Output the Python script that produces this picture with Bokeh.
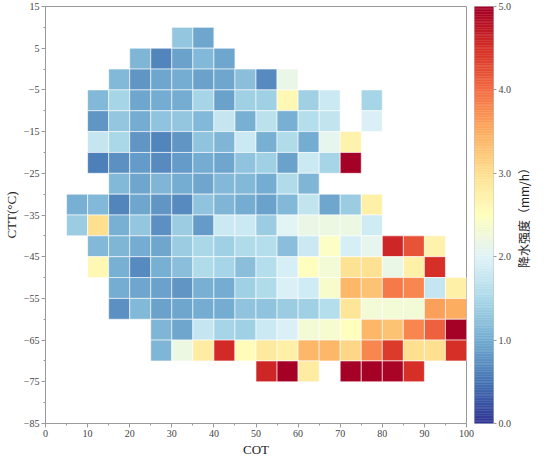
import numpy as np
from bokeh.plotting import figure
from bokeh.layouts import row
from bokeh.models import (ColumnDataSource, LinearColorMapper, FixedTicker,
                          PrintfTickFormatter, Range1d, Title)
from bokeh.core.properties import value
from bokeh.transform import transform
from bokeh.embed import file_html
from bokeh.resources import INLINE

N = None
# COT bin centres (x) and CTT bin centres (y)
cot_bins = [2.5, 7.5, 12.5, 17.5, 22.5, 27.5, 32.5, 37.5, 42.5, 47.5,
            52.5, 57.5, 62.5, 67.5, 72.5, 77.5, 82.5, 87.5, 92.5, 97.5]
ctt_bins = [7.5, 2.5, -2.5, -7.5, -12.5, -17.5, -22.5, -27.5, -32.5,
            -37.5, -42.5, -47.5, -52.5, -57.5, -62.5, -67.5, -72.5]

# rain intensity (mm/h) for each CTT row, one value per COT bin
row_p7_5 = [N, N, N, N, N, N, 1.3, 0.95, N, N, N, N, N, N, N, N, N, N, N, N]
row_p2_5 = [N, N, N, N, 1.1, 0.65, 0.9, 1.15, 0.95, N, N, N, N, N, N, N, N, N, N, N]
row_m2_5 = [N, N, N, 1.15, 0.8, 0.95, 1.0, 0.9, 0.95, 1.2, 0.7, 2.15, N, N, N, N, N, N, N, N]
row_m7_5 = [N, N, 1.15, 1.45, 0.95, 1.0, 1.0, 1.45, 0.9, 1.4, 1.4, 2.6, 1.4, 1.8, N, 1.45, N, N, N, N]
row_m12_5 = [N, N, 0.8, 1.3, 1.0, 1.25, 1.3, 1.15, 1.75, 1.05, 1.65, 1.05, 1.6, 1.7, N, 1.95, N, N, N, N]
row_m17_5 = [N, N, 1.75, 1.5, 0.8, 0.65, 0.8, 1.25, 1.1, 1.8, 1.05, 1.55, 1.0, 2.1, 2.7, N, N, N, N, N]
row_m22_5 = [N, N, 0.6, 0.75, 0.85, 0.7, 0.85, 1.0, 0.95, 1.25, 1.4, 0.9, 1.8, 1.45, 5.0, N, N, N, N, N]
row_m27_5 = [N, N, N, 1.15, 0.95, 1.1, 1.0, 0.95, 1.15, 1.15, 1.0, 1.55, 1.1, N, N, N, N, N, N, N]
row_m32_5 = [N, 1.05, 1.15, 0.65, 0.95, 0.8, 0.7, 1.25, 1.1, 1.0, 0.9, 1.15, 1.7, 0.95, 1.35, 2.75, N, N, N, N]
row_m37_5 = [N, 1.35, 3.0, 1.05, 1.3, 0.75, 1.35, 0.85, 1.8, 1.8, 1.35, 2.05, 2.15, 2.2, 2.2, 1.85, N, N, N, N]
row_m42_5 = [N, N, 1.15, 1.1, 1.0, 0.95, 1.35, 1.5, 1.4, 1.55, 1.6, 1.2, 1.8, 2.45, 1.9, 2.1, 4.6, 4.2, 2.7, N]
row_m47_5 = [N, N, 2.6, 1.05, 0.7, 1.05, 1.2, 1.55, 1.45, 1.2, 1.6, 1.9, 2.5, 2.3, 2.95, 2.95, 2.15, 2.75, 4.5, N]
row_m52_5 = [N, N, N, 1.0, 0.95, 0.9, 0.8, 1.05, 1.0, 1.4, 1.55, 1.95, 1.85, 2.4, 3.4, 3.3, 3.9, 3.8, 1.75, 2.75]
row_m57_5 = [N, N, N, 0.75, 1.15, 0.9, 0.95, 1.0, 1.0, 1.25, 1.25, 1.35, 1.4, 1.6, 2.9, 2.3, 2.3, 2.3, 3.6, 3.5]
row_m62_5 = [N, N, N, N, N, 1.1, 0.95, 1.75, 1.45, 1.4, 1.8, 1.95, 2.3, 2.35, 2.5, 3.4, 3.3, 3.8, 4.1, 5.0]
row_m67_5 = [N, N, N, N, N, 1.1, 2.2, 2.8, 4.55, 2.55, 2.85, 2.75, 3.4, 3.4, 3.1, 3.8, 4.4, 3.0, 3.0, 4.5]
row_m72_5 = [N, N, N, N, N, N, N, N, N, N, 4.6, 5.0, 2.8, N, 5.0, 5.0, 4.95, 4.5, N, N]

rows = [row_p7_5, row_p2_5, row_m2_5, row_m7_5, row_m12_5, row_m17_5, row_m22_5,
        row_m27_5, row_m32_5, row_m37_5, row_m42_5, row_m47_5, row_m52_5,
        row_m57_5, row_m62_5, row_m67_5, row_m72_5]

x_ticks = [0, 10, 20, 30, 40, 50, 60, 70, 80, 90, 100]
y_ticks = [-85, -75, -65, -55, -45, -35, -25, -15, -5, 5, 15]
cbar_ticks = [0, 1, 2, 3, 4, 5]
cbar_title = "降水强度（mm/h）"
v_min, v_max = 0.0, 5.0
cell = 5

# RdYlBu reversed (blue -> red), interpolated
base = ['#313695', '#4575b4', '#74add1', '#abd9e9', '#e0f3f8', '#ffffbf',
        '#fee090', '#fdae61', '#f46d43', '#d73027', '#a50026']
rgb = np.array([[int(h[i:i + 2], 16) for i in (1, 3, 5)] for h in base], float)
pos = np.linspace(0, 1, len(base))
palette = []
for tt in np.linspace(0, 1, 256):
    c = [np.interp(tt, pos, rgb[:, k]) for k in range(3)]
    palette.append('#%02x%02x%02x' % tuple(int(round(v)) for v in c))

mapper = LinearColorMapper(palette=palette, low=v_min, high=v_max)

xs, ys, vs = [], [], []
for yc, r in zip(ctt_bins, rows):
    for xc, v in zip(cot_bins, r):
        if v is not None:
            xs.append(xc)
            ys.append(yc)
            vs.append(v)
src = ColumnDataSource(dict(x=xs, y=ys, v=vs))

SERIF = "Liberation Serif"
GRAY = "#9a9a9a"
H = 456
TOP, BOTTOM = 6, 4


def style_axis(ax):
    ax.axis_line_color = GRAY
    ax.major_tick_line_color = GRAY
    ax.minor_tick_line_color = GRAY
    ax.major_tick_in = 0
    ax.major_tick_out = 4
    ax.minor_tick_in = 0
    ax.minor_tick_out = 2
    ax.major_label_text_font = SERIF
    ax.major_label_text_font_size = "10px"
    ax.major_label_text_color = "#444444"
    ax.major_label_standoff = 2
    ax.axis_label_text_font = SERIF
    ax.axis_label_text_font_size = "13px"
    ax.axis_label_text_font_style = "normal"
    ax.axis_label_text_color = "#222222"
    ax.axis_label_standoff = 2


def add_bottom(fig, visible):
    """x axis + 'COT' title below; invisible copies keep panels aligned."""
    ax = fig.xaxis[0]
    style_axis(ax)
    t = Title(text="COT", align="center", text_font=SERIF, text_font_size="13px",
              text_font_style="normal", text_color="#222222", standoff=0)
    if not visible:
        ax.ticker = FixedTicker(ticks=[0.5])
        ax.major_label_text_alpha = 0
        ax.axis_line_alpha = 0
        ax.major_tick_line_alpha = 0
        ax.minor_tick_line_alpha = 0
        t.text_alpha = 0
    fig.add_layout(t, "below")


# ---- main heatmap
p = figure(width=474, height=H, x_range=Range1d(0, 100), y_range=Range1d(-85, 15),
           output_backend="svg", toolbar_location=None,
           min_border_left=35, min_border_right=8,
           min_border_top=TOP, min_border_bottom=BOTTOM)
p.rect(x='x', y='y', width=cell, height=cell, source=src,
       fill_color=transform('v', mapper), line_color='white', line_width=0.6)
p.grid.visible = False
p.outline_line_color = GRAY
p.outline_line_width = 1
p.xaxis.ticker = FixedTicker(ticks=x_ticks, minor_ticks=[x + 5 for x in x_ticks[:-1]])
p.yaxis.ticker = FixedTicker(ticks=y_ticks, minor_ticks=[y + 5 for y in y_ticks[:-1]])
p.yaxis.axis_label = "CTT(°C)"
style_axis(p.yaxis[0])
add_bottom(p, True)

# ---- colour bar
p2 = figure(width=40, height=H, x_range=Range1d(0, 1), y_range=Range1d(v_min, v_max),
            output_backend="svg", toolbar_location=None,
            x_axis_location="below", y_axis_location="right",
            min_border_left=0, min_border_right=18,
            min_border_top=TOP, min_border_bottom=BOTTOM)
levels = np.linspace(v_min, v_max, len(palette) + 1)
p2.quad(left=0, right=1, bottom=levels[:-1], top=levels[1:],
        fill_color=palette, line_color=palette, line_width=0.4)
p2.grid.visible = False
p2.outline_line_color = "#bbbbbb"
p2.outline_line_width = 0.8
add_bottom(p2, False)
style_axis(p2.yaxis[0])
p2.yaxis.ticker = FixedTicker(ticks=cbar_ticks)
p2.yaxis.formatter = PrintfTickFormatter(format="%.1f")
p2.yaxis.major_tick_out = 3
p2.yaxis.axis_line_alpha = 0
p2.yaxis.major_label_standoff = 2

# ---- colour bar title (rotated, reads bottom to top)
p3 = figure(width=18, height=H, x_range=Range1d(0, 1), y_range=Range1d(v_min, v_max),
            output_backend="svg", toolbar_location=None,
            x_axis_location="below", y_axis_location=None,
            min_border_left=0, min_border_right=0,
            min_border_top=TOP, min_border_bottom=BOTTOM)
p3.grid.visible = False
p3.outline_line_color = None
add_bottom(p3, False)
p3.text(x=[0.5], y=[(v_min + v_max) / 2], text=[cbar_title], angle=np.pi / 2,
        text_align="center", text_baseline="middle",
        text_font=value("Noto Sans CJK SC"), text_font_size="12px",
        text_color="#222222")

layout = row(p, p2, p3)
open("out.html", "w").write(file_html(layout, INLINE))
